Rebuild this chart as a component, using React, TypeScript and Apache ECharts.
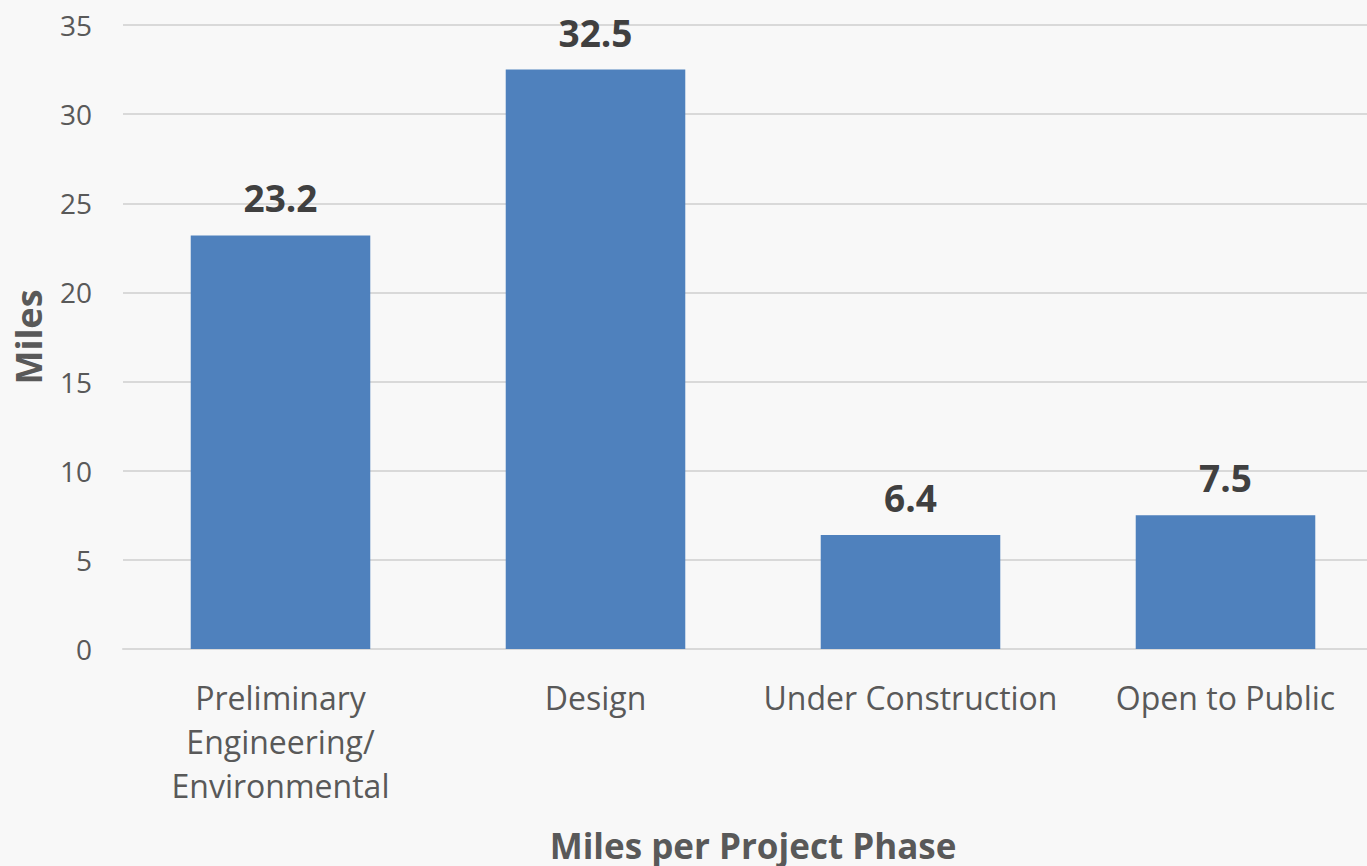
import React, { useEffect, useRef } from "react";
import * as echarts from "echarts";

const categories = ["Preliminary\nEngineering/\nEnvironmental", "Design", "Under Construction", "Open to Public"];
const miles = [23.2, 32.5, 6.4, 7.5];
const yTicks = { min: 0, max: 35, interval: 5 };

export default function App() {
  const ref = useRef<HTMLDivElement>(null);
  useEffect(() => {
    const chart = echarts.init(ref.current!, null, { renderer: "svg" });
    const font = "'Open Sans', sans-serif";
    chart.setOption({
      animation: false,
      backgroundColor: "#f8f8f8",
      textStyle: { fontFamily: font },
      grid: { left: 123, right: -16, top: 25, bottom: 217, containLabel: false, outerBoundsMode: "none" },
      xAxis: {
        type: "category",
        data: categories,
        name: "Miles per Project Phase",
        nameLocation: "middle",
        nameGap: 179,
        nameTextStyle: { fontSize: 35, fontWeight: "bold", color: "#595959", fontFamily: font },
        axisLine: { show: true, lineStyle: { color: "#d9d9d9", width: 2 } },
        axisTick: { show: false },
        axisLabel: { fontSize: 32, color: "#595959", lineHeight: 44, margin: 26, fontFamily: font, interval: 0 },
      },
      yAxis: {
        type: "value",
        min: yTicks.min,
        max: yTicks.max,
        interval: yTicks.interval,
        name: "Miles",
        nameLocation: "middle",
        nameGap: 77,
        nameTextStyle: { fontSize: 36, fontWeight: "bold", color: "#595959", fontFamily: font },
        axisLine: { show: false },
        axisTick: { show: false },
        axisLabel: { fontSize: 28, color: "#595959", margin: 31, fontFamily: font },
        splitLine: { lineStyle: { color: "#d9d9d9", width: 2 } },
      },
      series: [
        {
          type: "bar",
          data: miles,
          barWidth: "57%",
          itemStyle: { color: "#4f81bd" },
          label: {
            show: true,
            position: "top",
            distance: 19,
            fontSize: 37,
            fontWeight: "bold",
            color: "#404040",
            fontFamily: font,
          },
        },
      ],
    });
    return () => chart.dispose();
  }, []);
  return <div ref={ref} style={{ width: 1367, height: 866, position: "absolute", left: 0, top: 0, overflow: "hidden" }} />;
}
